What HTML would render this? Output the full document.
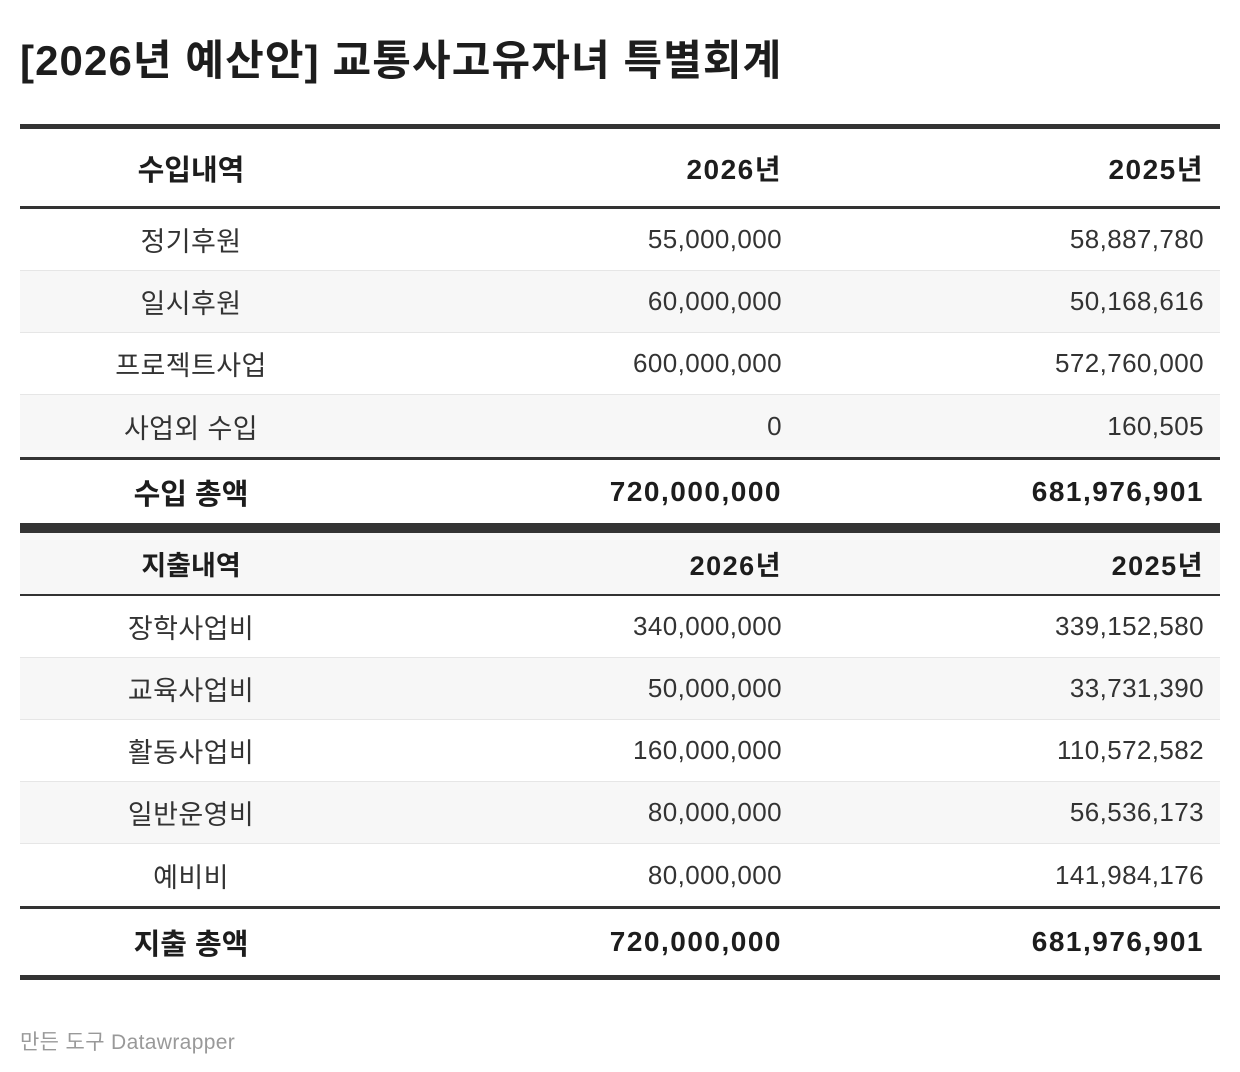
<!DOCTYPE html>
<html><head><meta charset="utf-8"><style>
body{margin:0;width:1240px;height:1072px;background:#fff;font-family:"Liberation Sans","Noto Sans CJK KR",sans-serif;color:#1d1d1d;position:relative;overflow:hidden}
.t{position:absolute;left:20px;top:27px;font-size:42px;font-weight:bold;letter-spacing:1.1px}
.r{position:absolute;left:20px;width:1200px;display:flex;align-items:center;font-size:26px;color:#333;letter-spacing:0.4px}
.r div{box-sizing:border-box}
.c1{width:342px;text-align:center;font-size:27px}
.c2{width:436px;text-align:right;padding-right:16px}
.c3{width:422px;text-align:right;padding-right:16px}
.b{font-weight:bold;color:#1d1d1d;font-size:28px;letter-spacing:1.5px}
.b .c1{font-size:29px;letter-spacing:0}
.line{position:absolute;left:20px;width:1200px;background:#333}
.g{background:#f7f7f7}
.sep{border-bottom:1px solid #e6e6e6}
.f{position:absolute;left:20px;top:1026px;font-size:21px;color:#999;letter-spacing:0.35px}
</style></head><body>
<div class="t">[2026년 예산안] 교통사고유자녀 특별회계</div>
<div class="line" style="top:124px;height:5px"></div>
<div class="r b" style="top:129px;height:77px"><div class="c1">수입내역</div><div class="c2">2026년</div><div class="c3">2025년</div></div>
<div class="line" style="top:206px;height:3px"></div>
<div class="r sep" style="top:209px;height:61px"><div class="c1">정기후원</div><div class="c2">55,000,000</div><div class="c3">58,887,780</div></div>
<div class="r g sep" style="top:271px;height:61px"><div class="c1">일시후원</div><div class="c2">60,000,000</div><div class="c3">50,168,616</div></div>
<div class="r sep" style="top:333px;height:61px"><div class="c1">프로젝트사업</div><div class="c2">600,000,000</div><div class="c3">572,760,000</div></div>
<div class="r g" style="top:395px;height:62px"><div class="c1">사업외 수입</div><div class="c2">0</div><div class="c3">160,505</div></div>
<div class="line" style="top:457px;height:3px"></div>
<div class="r b" style="top:460px;height:63px"><div class="c1">수입 총액</div><div class="c2">720,000,000</div><div class="c3">681,976,901</div></div>
<div class="line" style="top:523px;height:10px"></div>
<div class="r b g" style="top:533px;height:61px;font-size:27px"><div class="c1" style="font-size:27px">지출내역</div><div class="c2">2026년</div><div class="c3">2025년</div></div>
<div class="line" style="top:594px;height:2px"></div>
<div class="r sep" style="top:596px;height:61px"><div class="c1">장학사업비</div><div class="c2">340,000,000</div><div class="c3">339,152,580</div></div>
<div class="r g sep" style="top:658px;height:61px"><div class="c1">교육사업비</div><div class="c2">50,000,000</div><div class="c3">33,731,390</div></div>
<div class="r sep" style="top:720px;height:61px"><div class="c1">활동사업비</div><div class="c2">160,000,000</div><div class="c3">110,572,582</div></div>
<div class="r g sep" style="top:782px;height:61px"><div class="c1">일반운영비</div><div class="c2">80,000,000</div><div class="c3">56,536,173</div></div>
<div class="r" style="top:844px;height:62px"><div class="c1">예비비</div><div class="c2">80,000,000</div><div class="c3">141,984,176</div></div>
<div class="line" style="top:906px;height:3px"></div>
<div class="r b" style="top:909px;height:66px"><div class="c1">지출 총액</div><div class="c2">720,000,000</div><div class="c3">681,976,901</div></div>
<div class="line" style="top:975px;height:5px"></div>
<div class="f">만든 도구 Datawrapper</div>
</body></html>
